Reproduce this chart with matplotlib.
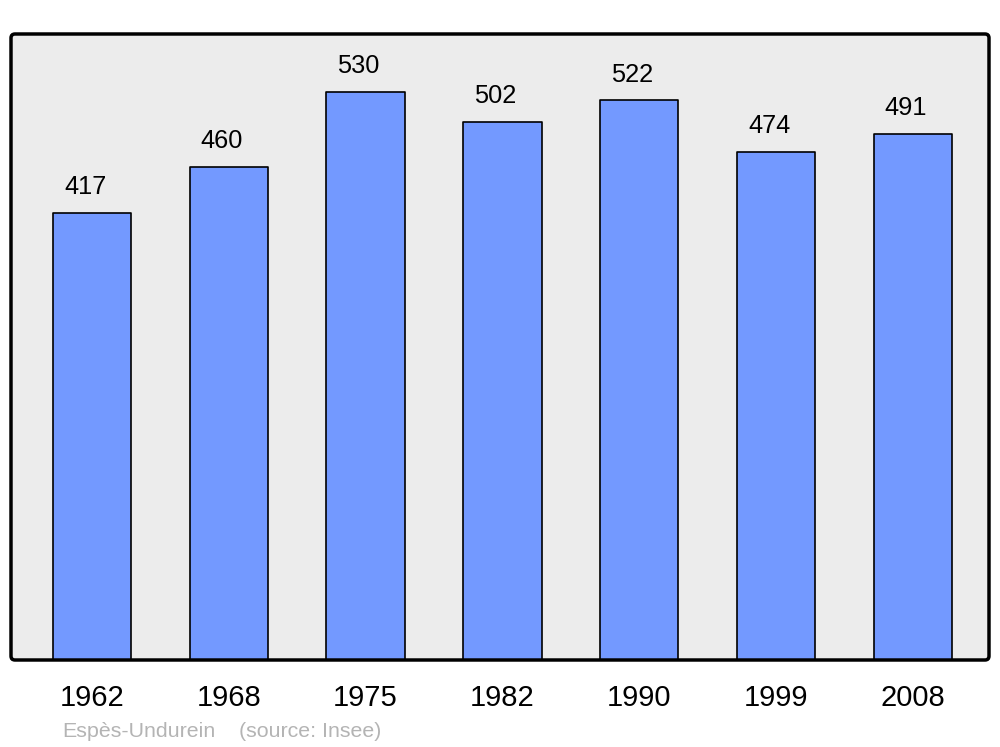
import matplotlib
matplotlib.use("Agg")
import matplotlib.pyplot as plt
from matplotlib.patches import FancyBboxPatch
from matplotlib.transforms import IdentityTransform

# Population data (Insee)
years = ["1962", "1968", "1975", "1982", "1990", "1999", "2008"]
population = [417, 460, 530, 502, 522, 474, 491]
commune = "Espès-Undurein"
source = "(source: Insee)"

plt.rcParams["font.family"] = ["Liberation Sans", "DejaVu Sans"]

fig = plt.figure(figsize=(10, 7.47), dpi=100)
ax = fig.add_axes([0.011, 0.1165, 0.978, 0.838])
ax.set_facecolor("#ececec")

x = range(len(years))
bars = ax.bar(x, population, width=0.572, color="#7399ff",
              edgecolor="black", linewidth=1.2, zorder=2)
for b in bars:
    b.set_joinstyle("round")

for xi, v in zip(x, population):
    ax.annotate(str(v), (xi, v), xytext=(-5, 13.5), textcoords="offset points",
                ha="center", va="baseline", fontsize=18.3)

ax.set_xlim(-0.592, 6.557)
ax.set_ylim(0, 584)
ax.set_xticks(list(x))
ax.set_xticklabels(years, fontsize=21)
ax.tick_params(axis="x", length=0, pad=17)
ax.set_yticks([])

# frame with rounded corners instead of the spines
for s in ax.spines.values():
    s.set_visible(False)
frame = FancyBboxPatch((11, 87), 978, 626, boxstyle="round,pad=0,rounding_size=4",
                       transform=IdentityTransform(), fill=False,
                       edgecolor="black", linewidth=2.5, zorder=5)
fig.add_artist(frame)

fig.text(0.062, 1 - 737 / 747, commune, fontsize=15.4, color="#b4b4b4",
         va="baseline")
fig.text(0.239, 1 - 737 / 747, source, fontsize=15.4, color="#b4b4b4",
         va="baseline")

fig.savefig("out.png", dpi=100)
